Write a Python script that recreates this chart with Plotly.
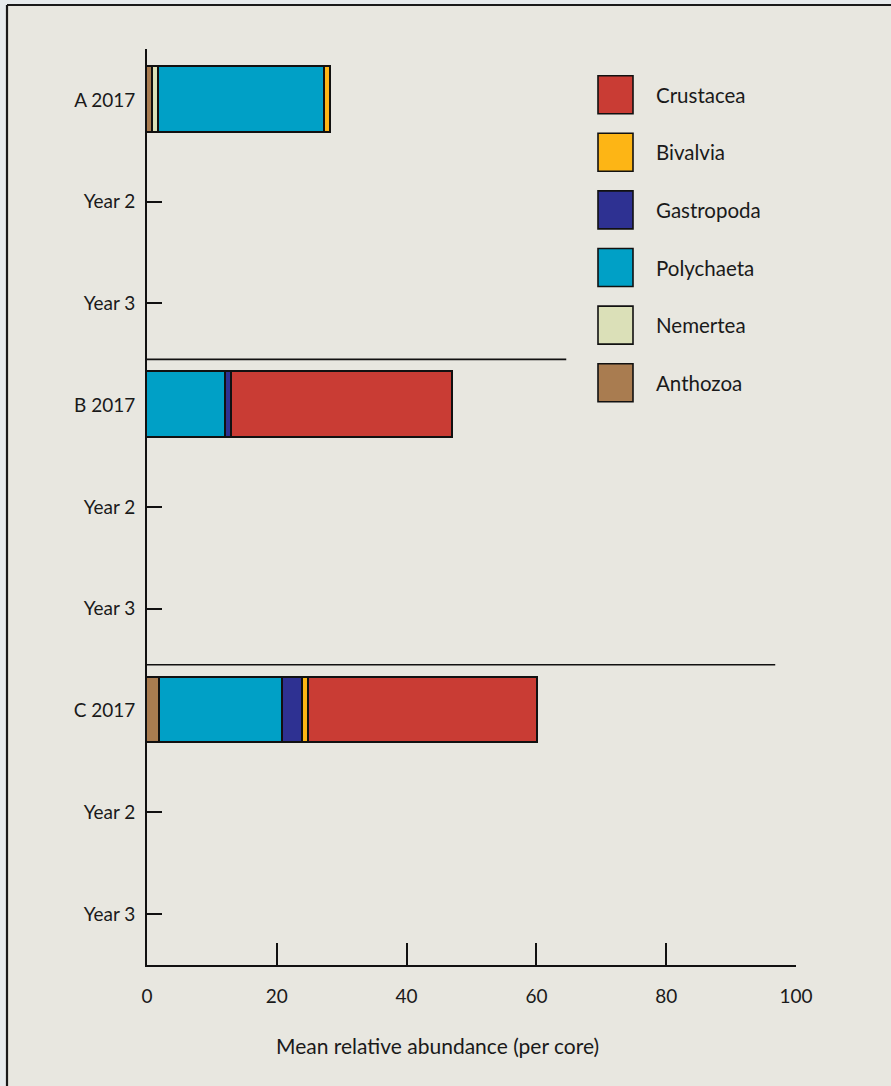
import plotly.graph_objects as go

# ---- data ----
row_labels = ["A 2017", "Year 2", "Year 3", "B 2017", "Year 2", "Year 3", "C 2017", "Year 2", "Year 3"]
taxa = ["Anthozoa", "Nemertea", "Polychaeta", "Gastropoda", "Bivalvia", "Crustacea"]
colors = ["#a97c50", "#dbe0b8", "#00a0c6", "#2e3192", "#fdb515", "#c93c34"]
anthozoa   = [0.9, None, None, 0.0,  None, None, 2.0,  None, None]
nemertea   = [1.0, None, None, 0.0,  None, None, 0.0,  None, None]
polychaeta = [25.5, None, None, 12.1, None, None, 19.0, None, None]
gastropoda = [0.0, None, None, 1.0,  None, None, 3.0,  None, None]
bivalvia   = [1.0, None, None, 0.0,  None, None, 1.0,  None, None]
crustacea  = [0.0, None, None, 34.0, None, None, 35.2, None, None]
series = [anthozoa, nemertea, polychaeta, gastropoda, bivalvia, crustacea]
x_ticks = [0, 20, 40, 60, 80, 100]
x_title = "Mean relative abundance (per core)"

FONT = "Lato, 'Open Sans', sans-serif"
W, H = 891, 1086
L, R, T, B = 147, 796, 49, 965

def px(x):
    return (x - L) / (R - L)

def py(y):
    return (B - y) / (B - T)

fig = go.Figure()
ypos = list(range(len(row_labels)))
for name, col, vals in zip(taxa, colors, series):
    xs, ys = [], []
    for v, yv in zip(vals, ypos):
        if v:
            xs.append(v)
            ys.append(yv)
    fig.add_trace(go.Bar(
        x=xs, y=ys, orientation="h", name=name, width=0.644,
        marker=dict(color=col, line=dict(color="#111111", width=1.6)),
        showlegend=False,
    ))

shapes = []
# page background panel and its top/left frame lines
shapes.append(dict(type="rect", xref="paper", yref="paper", layer="below",
                   x0=px(7), x1=px(W + 20), y0=py(5), y1=py(H + 20),
                   fillcolor="#e8e7e0", line=dict(width=0)))
shapes.append(dict(type="line", xref="paper", yref="paper", layer="below",
                   x0=px(7), x1=px(W + 20), y0=py(5), y1=py(5),
                   line=dict(color="#1a1a1a", width=2.2)))
shapes.append(dict(type="line", xref="paper", yref="paper", layer="below",
                   x0=px(7), x1=px(7), y0=py(5), y1=py(H + 20),
                   line=dict(color="#1a1a1a", width=2.2)))
# group separators
shapes.append(dict(type="line", xref="x", yref="y", x0=0, x1=64.6, y0=2.55, y1=2.55,
                   line=dict(color="#111111", width=1.6)))
shapes.append(dict(type="line", xref="x", yref="y", x0=0, x1=96.8, y0=5.55, y1=5.55,
                   line=dict(color="#111111", width=1.6)))

annotations = []
# custom legend (reverse order: Crustacea on top)
leg_top = 75.7
step = 57.6
for i, (name, col) in enumerate(reversed(list(zip(taxa, colors)))):
    y0 = leg_top + i * step
    shapes.append(dict(type="rect", xref="paper", yref="paper",
                       x0=px(598), x1=px(633), y0=py(y0 + 38), y1=py(y0),
                       fillcolor=col, line=dict(color="#111111", width=1.6)))
    annotations.append(dict(xref="paper", yref="paper", x=px(654), y=py(y0 + 19),
                            text=name, showarrow=False, xanchor="left", yanchor="middle",
                            font=dict(family=FONT, size=20.5, color="#1a1a1a")))
annotations.append(dict(xref="paper", yref="paper", x=px(437), y=py(1045),
                        text=x_title, showarrow=False, xanchor="center", yanchor="middle",
                        font=dict(family=FONT, size=21, color="#1a1a1a")))

fig.update_layout(
    width=W, height=H, autosize=False,
    margin=dict(l=L, r=W - R, t=T, b=H - B, pad=0),
    paper_bgcolor="#e7ebed", plot_bgcolor="rgba(0,0,0,0)",
    barmode="stack", bargap=0,
    font=dict(family=FONT, size=19, color="#1a1a1a"),
    shapes=shapes, annotations=annotations, showlegend=False,
)
fig.update_xaxes(range=[0, 100], tickvals=x_ticks, ticks="inside", ticklen=22,
                 tickwidth=1.6, tickcolor="#111111", showline=True, linewidth=1.8,
                 linecolor="#111111", showgrid=False, zeroline=False,
                 ticklabelstandoff=13, tickfont=dict(family=FONT, size=19),
                 layer="below traces")
fig.update_yaxes(range=[8.5, -0.5], tickvals=ypos, ticktext=row_labels,
                 ticks="inside", ticklen=15, tickwidth=1.6, tickcolor="#111111",
                 showline=True, linewidth=1.8, linecolor="#111111",
                 showgrid=False, zeroline=False, ticklabelstandoff=6,
                 tickfont=dict(family=FONT, size=19), layer="below traces")

fig.write_html("out.html", config={"displayModeBar": False},
               post_script="document.body.style.margin='0';document.body.style.background='#e7ebed';")
